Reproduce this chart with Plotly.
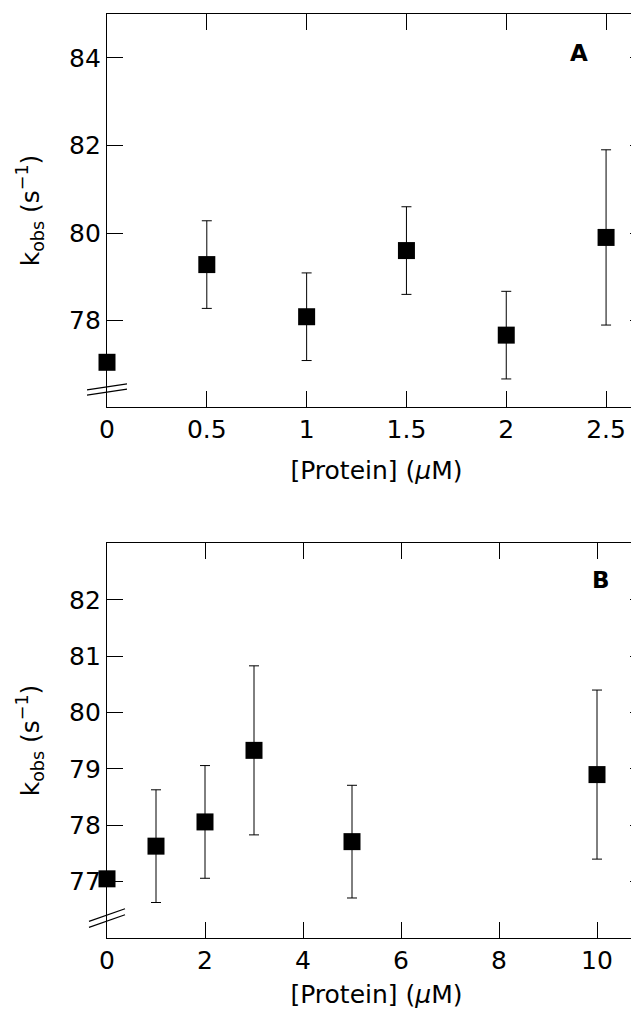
import plotly.graph_objects as go

# Panel A data
xa = [0, 0.5, 1, 1.5, 2, 2.5]
ya = [77.05, 79.28, 78.09, 79.6, 77.67, 79.9]
ea = [0, 1.0, 1.0, 1.0, 1.0, 2.0]
xa_ticks = [0, 0.5, 1, 1.5, 2, 2.5]
xa_ticktext = ["0", "0.5", "1", "1.5", "2", "2.5"]
ya_ticks = [78, 80, 82, 84]

# Panel B data
xb = [0, 1, 2, 3, 5, 10]
yb = [77.05, 77.63, 78.06, 79.33, 77.71, 78.9]
eb = [0, 1.0, 1.0, 1.5, 1.0, 1.5]
xb_ticks = [0, 2, 4, 6, 8, 10]
yb_ticks = [77, 78, 79, 80, 81, 82]

FONT = "DejaVu Sans"
FS = 25

fig = go.Figure()

def add_series(x, y, e, xref, yref):
    fig.add_trace(go.Scatter(
        x=x, y=y, mode="markers", cliponaxis=False,
        marker=dict(symbol="square", size=17, color="black"),
        error_y=dict(type="data", array=e, visible=True, color="black",
                     thickness=1, width=5),
        xaxis=xref, yaxis=yref, showlegend=False, hoverinfo="x+y",
    ))

add_series(xa, ya, ea, "x", "y")
add_series(xb, yb, eb, "x2", "y2")

common_axis = dict(
    showline=True, linecolor="black", linewidth=1.2, mirror="ticks",
    ticks="inside", ticklen=16, tickwidth=1, tickcolor="black",
    showgrid=False, zeroline=False, automargin=False,
    tickfont=dict(family=FONT, size=FS, color="black"),
)

xtitle = dict(text="[Protein] (<i>μ</i>M)", font=dict(family=FONT, size=FS, color="black"), standoff=18)
ytitle = dict(text="k<sub>obs</sub> (s<sup>−1</sup>)", font=dict(family=FONT, size=FS, color="black"), standoff=22)

fig.update_layout(
    width=638, height=1001,
    margin=dict(l=99, r=0, t=6, b=71, autoexpand=False),
    paper_bgcolor="white", plot_bgcolor="white",
    xaxis=dict(domain=[0, 1], anchor="y", range=[0, 2.7],
               tickvals=xa_ticks, ticktext=xa_ticktext, title=xtitle, **common_axis),
    yaxis=dict(domain=[0.5747, 1], anchor="x", range=[76.03, 85.0],
               tickvals=ya_ticks, title=ytitle, **common_axis),
    xaxis2=dict(domain=[0, 1], anchor="y2", range=[0, 11],
                tickvals=xb_ticks, title=xtitle, **common_axis),
    yaxis2=dict(domain=[0, 0.4275], anchor="x2", range=[76.0, 83.01],
                tickvals=yb_ticks, title=ytitle, **common_axis),
)

# panel labels
fig.add_annotation(text="<b>A</b>", xref="x", yref="y", x=2.365, y=84.1,
                   showarrow=False, font=dict(family=FONT, size=23, color="black"))
fig.add_annotation(text="<b>B</b>", xref="x2", yref="y2", x=10.08, y=82.35,
                   showarrow=False, font=dict(family=FONT, size=23, color="black"))

# axis break marks (domain refs so they are not clipped by the plot area)
for (xr, yr, yc, dx, dy, gap) in [("x domain", "y domain", 0.0445, 20, 3, 2.6),
                                  ("x2 domain", "y2 domain", 0.0506, 18, 6.3, 3.0)]:
    for off in (gap, -gap):
        fig.add_shape(type="line", xref=xr, yref=yr,
                      xsizemode="pixel", xanchor=0, x0=-dx, x1=dx,
                      ysizemode="pixel", yanchor=yc, y0=-dy + off, y1=dy + off,
                      line=dict(color="black", width=1.2))

fig.write_html("out.html")
